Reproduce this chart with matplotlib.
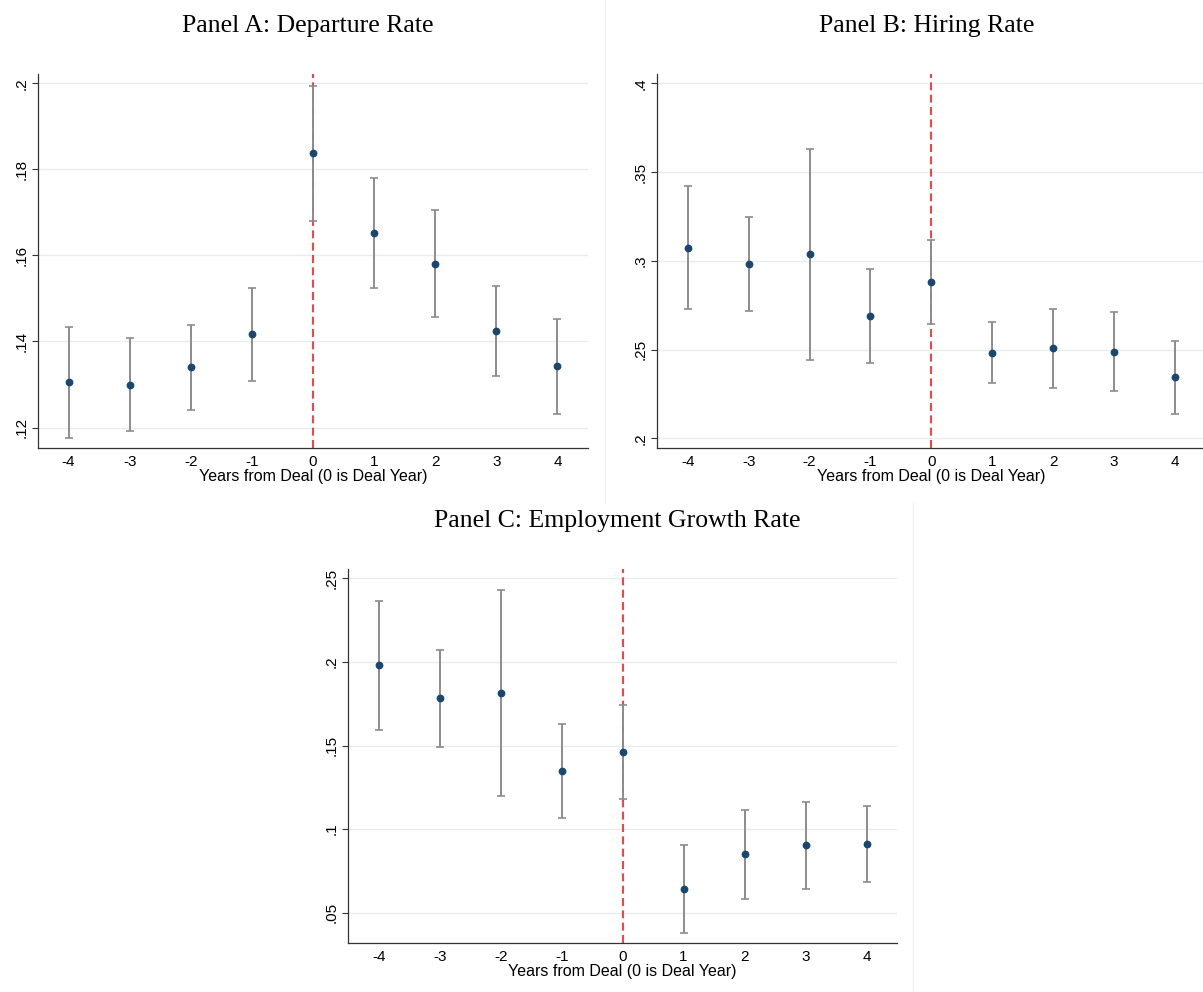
import numpy as np
import matplotlib
matplotlib.use("Agg")
import matplotlib.pyplot as plt
from matplotlib.lines import Line2D

# Event-study estimates, years relative to the deal year
years = [-4, -3, -2, -1, 0, 1, 2, 3, 4]

# Panel A: departure rate
dep_coef = [0.1305, 0.1298, 0.1340, 0.1417, 0.1838, 0.1652, 0.1581, 0.1425, 0.1343]
dep_hi = [0.1433, 0.1407, 0.1439, 0.1525, 0.1994, 0.1779, 0.1706, 0.1529, 0.1453]
dep_lo = [0.1175, 0.1191, 0.1241, 0.1308, 0.1681, 0.1525, 0.1457, 0.1320, 0.1231]
dep_ticks = [0.12, 0.14, 0.16, 0.18, 0.20]
dep_ticklabels = [".12", ".14", ".16", ".18", ".2"]

# Panel B: hiring rate
hire_coef = [0.3074, 0.2980, 0.3037, 0.2691, 0.2883, 0.2483, 0.2507, 0.2488, 0.2344]
hire_hi = [0.3423, 0.3245, 0.3632, 0.2956, 0.3119, 0.2655, 0.2729, 0.2712, 0.2546]
hire_lo = [0.2729, 0.2719, 0.2443, 0.2426, 0.2642, 0.2310, 0.2285, 0.2267, 0.2139]
hire_ticks = [0.20, 0.25, 0.30, 0.35, 0.40]
hire_ticklabels = [".2", ".25", ".3", ".35", ".4"]

# Panel C: employment growth rate
emp_coef = [0.1980, 0.1782, 0.1816, 0.1349, 0.1461, 0.0640, 0.0851, 0.0903, 0.0911]
emp_hi = [0.2366, 0.2073, 0.2430, 0.1631, 0.1742, 0.0903, 0.1116, 0.1164, 0.1138]
emp_lo = [0.1591, 0.1491, 0.1200, 0.1068, 0.1182, 0.0376, 0.0584, 0.0640, 0.0685]
emp_ticks = [0.05, 0.10, 0.15, 0.20, 0.25]
emp_ticklabels = [".05", ".1", ".15", ".2", ".25"]

x_label = "Years from Deal (0 is Deal Year)"

W, H = 1203, 992
fig = plt.figure(figsize=(W / 100, H / 100), dpi=100)
fig.patch.set_facecolor("white")

SANS = ["Liberation Sans", "Arial", "DejaVu Sans"]
SERIF = ["Liberation Serif", "Times New Roman", "DejaVu Serif"]


def px_axes(left, right, top, bottom):
    return fig.add_axes([left / W, 1 - bottom / H, (right - left) / W, (bottom - top) / H])


def panel(ax, coef, lo, hi, ticks, ticklabels, ylim):
    coef = np.asarray(coef)
    lo = np.asarray(lo)
    hi = np.asarray(hi)
    ax.set_xlim(-4.5, 4.5)
    ax.set_ylim(*ylim)
    for t in ticks:
        ax.axhline(t, color="#e5edf0", lw=1.0, zorder=0)
    ax.axvline(0, color="#ff1a1a", lw=1.2, linestyle=(0, (4.8, 2.6)), zorder=1)
    ax.errorbar(years, coef, yerr=[coef - lo, hi - coef], fmt="none",
                ecolor="#8c8c8c", elinewidth=1.4, capsize=2.9, capthick=1.2, zorder=2)
    ax.plot(years, coef, "o", color="#1a476f", markersize=4.6, zorder=3)

    ax.set_xticks(years)
    ax.set_xticklabels([str(y) for y in years], fontfamily=SANS, fontsize=11)
    ax.set_yticks(ticks)
    ax.set_yticklabels(ticklabels, fontfamily=SANS, fontsize=11,
                       rotation=90, va="center")
    ax.tick_params(axis="x", length=0, pad=5)
    ax.tick_params(axis="y", length=4, width=0.8, color="#333333", pad=3)
    ax.set_xlabel(x_label, fontfamily=SANS, fontsize=11.5, labelpad=0)
    for s in ("top", "right"):
        ax.spines[s].set_visible(False)
    for s in ("left", "bottom"):
        ax.spines[s].set_color("#333333")
        ax.spines[s].set_linewidth(0.9)
    ax.set_facecolor("white")


axA = px_axes(38, 588, 74.3, 448)
panel(axA, dep_coef, dep_lo, dep_hi, dep_ticks, dep_ticklabels, (0.11524, 0.2021))

axB = px_axes(657.3, 1205.5, 74.3, 447.7)
panel(axB, hire_coef, hire_lo, hire_hi, hire_ticks, hire_ticklabels, (0.1947, 0.4051))

axC = px_axes(348.3, 897, 569.3, 942.7)
panel(axC, emp_coef, emp_lo, emp_hi, emp_ticks, emp_ticklabels, (0.0320, 0.2555))

# Panel titles
fig.text(308 / W, 1 - 32 / H, "Panel A: Departure Rate", ha="center", va="baseline",
         fontfamily=SERIF, fontsize=18.5)
fig.text(927 / W, 1 - 32 / H, "Panel B: Hiring Rate", ha="center", va="baseline",
         fontfamily=SERIF, fontsize=18.5)
fig.text(617 / W, 1 - 527 / H, "Panel C: Employment Growth Rate", ha="center", va="baseline",
         fontfamily=SERIF, fontsize=18.5)

# Faint borders between the graph regions
fig.add_artist(Line2D([604.5 / W, 604.5 / W], [1 - 0 / H, 1 - 503 / H],
                      color="#f0f0f0", lw=0.8, transform=fig.transFigure))
fig.add_artist(Line2D([913 / W, 913 / W], [1 - 503 / H, 0],
                      color="#f0f0f0", lw=0.8, transform=fig.transFigure))

fig.savefig("out.png", dpi=100, facecolor="white")
